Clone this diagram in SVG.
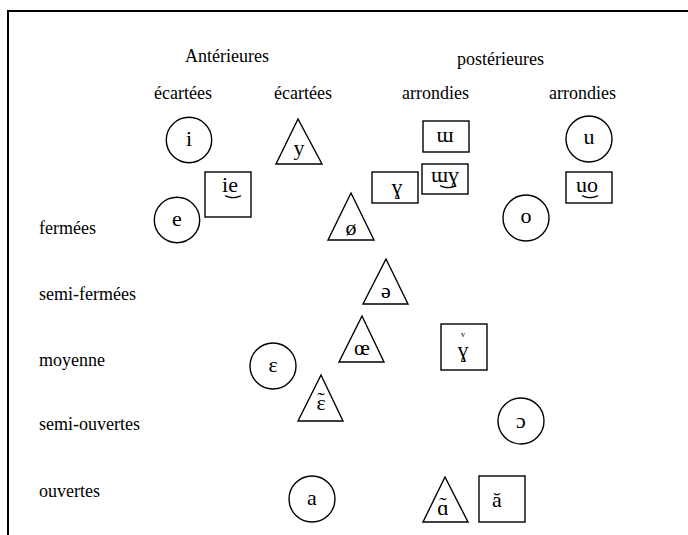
<svg xmlns="http://www.w3.org/2000/svg" width="688" height="535" viewBox="0 0 688 535">
<style>
.lbl{font-family:"Liberation Serif","Times New Roman",serif;font-size:18px;fill:#000}
.g{font-family:"Liberation Serif","DejaVu Serif",serif;font-size:22px;fill:#000;text-anchor:middle}
.sm{font-size:8px}
.tie{font-family:"DejaVu Sans",sans-serif;font-size:18px}
.s{fill:#fff;stroke:#000;stroke-width:1.4}
.frame{stroke:#000;stroke-width:2;fill:none}
</style>
<rect width="688" height="535" fill="#fff"/>
<path class="frame" d="M8,535 V11 H688"/>
<g id="labels">
<text class="lbl" x="185" y="62">Antérieures</text>
<text class="lbl" x="457" y="65">postérieures</text>
<text class="lbl" x="154" y="99">écartées</text>
<text class="lbl" x="274" y="99">écartées</text>
<text class="lbl" x="402" y="99">arrondies</text>
<text class="lbl" x="549" y="99">arrondies</text>
<text class="lbl" x="39" y="234">fermées</text>
<text class="lbl" x="39" y="300">semi-fermées</text>
<text class="lbl" x="39" y="366">moyenne</text>
<text class="lbl" x="39" y="430">semi-ouvertes</text>
<text class="lbl" x="39" y="497">ouvertes</text>
</g>
<g id="n-i"><circle class="s" cx="189" cy="140" r="22.7"/><text class="g" x="189" y="146">i</text></g>
<g id="n-e"><circle class="s" cx="177" cy="220" r="22.7"/><text class="g" x="177" y="226">e</text></g>
<g id="n-u"><circle class="s" cx="589" cy="139" r="23"/><text class="g" x="589" y="144">u</text></g>
<g id="n-o"><circle class="s" cx="526" cy="218" r="23"/><text class="g" x="526" y="223">o</text></g>
<g id="n-eps"><circle class="s" cx="273" cy="366" r="23"/><text class="g" x="273" y="372">ɛ</text></g>
<g id="n-open-o"><circle class="s" cx="521" cy="421" r="23"/><text class="g" x="521" y="428">ɔ</text></g>
<g id="n-a"><circle class="s" cx="312" cy="499" r="23"/><text class="g" x="312" y="505">a</text></g>
<g id="n-y"><polygon class="s" points="298,119 276,164 322,164"/><text class="g" x="299" y="155">y</text></g>
<g id="n-oslash"><polygon class="s" points="351,193 328,240 374,240"/><text class="g" x="351" y="235">ø</text></g>
<g id="n-schwa"><polygon class="s" points="386,259 363,304 408,304"/><text class="g" x="386" y="298">ə</text></g>
<g id="n-oe"><polygon class="s" points="362,316 339,362 384,362"/><text class="g" x="362" y="355">œ</text></g>
<g id="n-eps-nasal"><polygon class="s" points="321,375 298,421 343,421"/><text class="g" x="321" y="410">ɛ<tspan x="321" y="407">˜</tspan></text></g>
<g id="n-alpha-nasal"><polygon class="s" points="445,477 423,522 468,522"/><text class="g" x="443" y="515">ɑ<tspan x="443" y="512">˜</tspan></text></g>
<g id="n-ie"><rect class="s" x="205" y="172" width="46" height="45"/><text class="g" x="230" y="192">ie<tspan class="tie" x="233" y="194">‿</tspan></text></g>
<g id="n-turned-m"><rect class="s" x="423" y="121" width="46" height="31"/><text class="g" x="445" y="142">ɯ</text></g>
<g id="n-turned-m-gamma"><rect class="s" x="422" y="164" width="46" height="30"/><text class="g" x="445" y="182">ɯɣ<tspan class="tie" x="448" y="184">‿</tspan></text></g>
<g id="n-gamma"><rect class="s" x="372" y="172" width="46" height="31"/><text class="g" x="397" y="194">ɣ</text></g>
<g id="n-uo"><rect class="s" x="566" y="172" width="46" height="31"/><text class="g" x="587" y="192">uo<tspan class="tie" x="590" y="194">‿</tspan></text></g>
<g id="n-gamma-v"><rect class="s" x="441" y="324" width="46" height="46"/><text class="g" x="463" y="337"><tspan class="sm">v</tspan><tspan x="463" y="357">ɣ</tspan></text></g>
<g id="n-a-breve"><rect class="s" x="479" y="476" width="46" height="46"/><text class="g" x="497" y="507">ă</text></g>
<g id="connectors"/>
</svg>
